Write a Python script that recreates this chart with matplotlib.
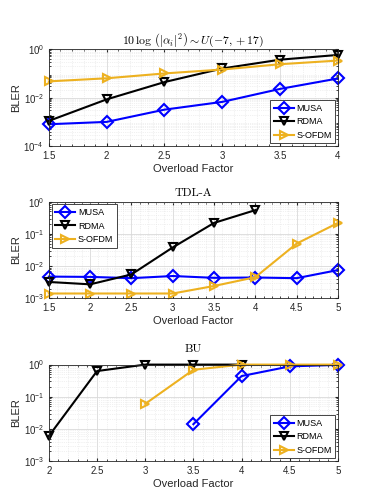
import matplotlib
matplotlib.use("Agg")
import matplotlib.pyplot as plt
from matplotlib.ticker import LogLocator, NullFormatter, MultipleLocator

plt.rcParams['font.family'] = ['Liberation Sans', 'DejaVu Sans']
plt.rcParams['mathtext.fontset'] = 'cm'

# Panel 1
x1 = [1.5, 2, 2.5, 3, 3.5, 4]
musa1 = [8e-4, 1.0e-3, 3.2e-3, 6.7e-3, 2.3e-2, 6.2e-2]
rdma1 = [1.1e-3, 8.5e-3, 4.4e-2, 0.16, 0.37, 0.58]
sofdm1 = [4.7e-2, 6.3e-2, 0.10, 0.145, 0.24, 0.34]

# Panel 2
x2 = [1.5, 2, 2.5, 3, 3.5, 4, 4.5, 5]
musa2 = [4.7e-3, 4.6e-3, 4.2e-3, 4.9e-3, 4.3e-3, 4.4e-3, 4.2e-3, 7.5e-3]
x2r = [1.5, 2, 2.5, 3, 3.5, 4]
rdma2 = [3.2e-3, 2.7e-3, 5.5e-3, 3.8e-2, 0.22, 0.55]
sofdm2 = [1.4e-3, 1.4e-3, 1.4e-3, 1.4e-3, 2.4e-3, 4.5e-3, 5e-2, 0.22]

# Panel 3
x3m = [3.5, 4, 4.5, 5]
musa3 = [1.4e-2, 0.44, 0.88, 0.98]
x3r = [2, 2.5, 3, 3.5, 4]
rdma3 = [6e-3, 0.63, 1.0, 1.0, 1.0]
x3s = [3, 3.5, 4, 4.5, 5]
sofdm3 = [6e-2, 0.69, 1.0, 1.0, 1.0]

blue = '#0000FF'
black = '#000000'
yellow = '#EDB120'

fig = plt.figure(figsize=(3.73, 4.97), dpi=100)

left, width = 0.131, 0.775
ax1 = fig.add_axes([left, 0.706, width, 0.195])
ax2 = fig.add_axes([left, 0.400, width, 0.194])
ax3 = fig.add_axes([left, 0.0724, width, 0.194])

lw = 1.5
ms = 6
kw = dict(lw=lw, ms=ms, mew=1.5, markerfacecolor='none', clip_on=False)

def plot_all(ax, xm, ym, xr, yr, xs, ys):
    ax.plot(xm, ym, '-D', color=blue, label='MUSA', **kw)
    ax.plot(xr, yr, '-v', color=black, label='RDMA', **kw)
    ax.plot(xs, ys, '->', color=yellow, label='S-OFDM', **kw)

def style(ax, xlim, ylim, xticks, yticks, title, title_family=None, tpad=3):
    ax.set_yscale('log')
    ax.set_xlim(*xlim)
    ax.set_ylim(*ylim)
    ax.set_xticks(xticks)
    ax.set_xticklabels([('%g' % t) for t in xticks])
    ax.xaxis.set_minor_locator(MultipleLocator(0.1))
    ax.set_yticks(yticks)
    ax.yaxis.set_minor_locator(LogLocator(base=10, subs=range(2, 10), numticks=20))
    ax.yaxis.set_minor_formatter(NullFormatter())
    ax.grid(True, which='major', color='#d9d9d9', lw=0.6)
    ax.grid(True, which='minor', color='#e3e3e3', lw=0.5, ls=':')
    ax.set_axisbelow(True)
    ax.tick_params(direction='in', which='both', top=True, right=True,
                   labelsize=7, colors='#262626', length=2.5)
    ax.tick_params(which='minor', length=1.2)
    for s in ax.spines.values():
        s.set_color('#262626')
        s.set_linewidth(0.6)
    ax.set_xlabel('Overload Factor', fontsize=8, color='#262626', labelpad=2)
    ax.set_ylabel('BLER', fontsize=8, color='#262626', labelpad=2)
    if title_family:
        ax.set_title(title, fontsize=8.5, pad=tpad, family=title_family)
    else:
        ax.set_title(title, fontsize=8.5, pad=tpad)

plot_all(ax1, x1, musa1, x1, rdma1, x1, sofdm1)
style(ax1, (1.5, 4), (1e-4, 1), x1, [1e-4, 1e-2, 1], r'$10\,\log\,\left(|\alpha_i|^2\right)\sim U(-7,+17)$')

plot_all(ax2, x2, musa2, x2r, rdma2, x2, sofdm2)
style(ax2, (1.5, 5), (1e-3, 1), x2, [1e-3, 1e-2, 1e-1, 1], 'TDL-A', 'cmr10', tpad=4)

plot_all(ax3, x3m, musa3, x3r, rdma3, x3s, sofdm3)
style(ax3, (2, 5), (1e-3, 1), [2, 2.5, 3, 3.5, 4, 4.5, 5], [1e-3, 1e-2, 1e-1, 1], 'BU', 'cmr10', tpad=9)

legkw = dict(fontsize=6.5, fancybox=False, edgecolor='#262626', framealpha=1,
             handlelength=2.2, borderpad=0.4, labelspacing=0.5, handletextpad=0.3,
             borderaxespad=0.3)
for ax, loc in [(ax1, 'lower right'), (ax2, 'upper left'), (ax3, 'lower right')]:
    lg = ax.legend(loc=loc, **legkw)
    lg.get_frame().set_linewidth(0.6)
    lg.set_zorder(5)

fig.savefig('out.png', dpi=100)
